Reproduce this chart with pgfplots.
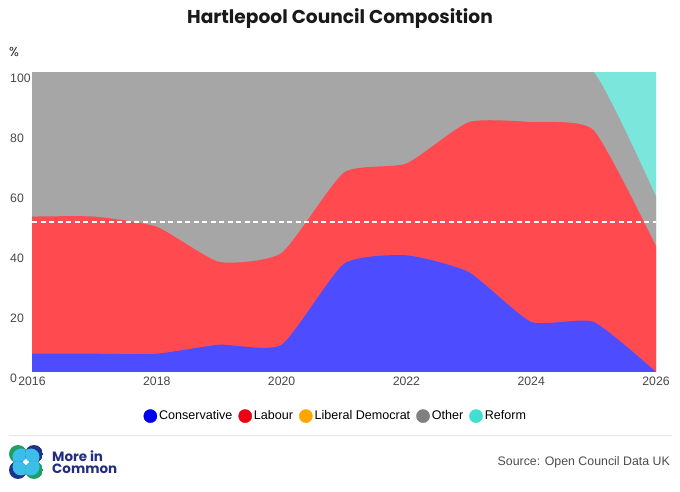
\documentclass[border=0pt]{standalone}
\usepackage{pgfplots}
\pgfplotsset{compat=1.18}
\usepackage{pgfplotstable}
\usepgfplotslibrary{fillbetween}
\usepackage{fontspec}
\setmainfont{Liberation Sans}
\newfontfamily\poppins{Poppins}

\definecolor{conA}{RGB}{77,77,255}
\definecolor{labA}{RGB}{255,75,80}
\definecolor{othA}{RGB}{166,166,166}
\definecolor{refA}{RGB}{123,230,220}
\definecolor{conL}{RGB}{0,0,240}
\definecolor{labL}{RGB}{235,0,20}
\definecolor{libL}{RGB}{255,166,0}
\definecolor{othL}{RGB}{128,128,128}
\definecolor{refL}{RGB}{64,224,208}
\definecolor{tickgray}{RGB}{70,70,70}
\definecolor{navy}{RGB}{32,45,130}
\definecolor{logogreen}{RGB}{30,160,100}
\definecolor{logonavy}{RGB}{30,50,140}
\definecolor{logocyan}{RGB}{60,190,235}

% cumulative boundaries (percent of seats)
\pgfplotstableread{
year con labtop othtop all
2016 6.1 51.8 100 100
2017 6.1 51.8 100 100
2018 6.1 48.4 100 100
2019 9.1 36.7 100 100
2020 9.1 39.7 100 100
2021 36.1 66.5 100 100
2022 38.9 69.5 100 100
2023 33.3 83.3 100 100
2024 16.7 83.3 100 100
2025 16.7 80.6 100 100
2026 0 41.9 58.5 100
}\councildata

\begin{document}
\begin{tikzpicture}
\begin{axis}[
  at={(32bp,120bp)}, anchor=south west,
  scale only axis, width=624bp, height=300bp,
  xmin=2016, xmax=2026, ymin=0, ymax=100,
  xtick={2016,2018,...,2026}, ytick={0,20,...,100},
  axis line style={draw=none}, major tick length=0pt,
  /pgf/number format/1000 sep={},
  /pgf/number format/assume math mode=true,
  xticklabel style={font=\fontsize{12.3}{14}\selectfont, text=tickgray, yshift=-1bp},
  yticklabel style={font=\fontsize{12.3}{14}\selectfont, text=tickgray, anchor=north west, inner sep=0pt, xshift=-22bp, yshift=-2bp},
  legend style={at={(0.4864,-0.147)}, anchor=center, draw=none, fill=none,
    legend columns=-1, font=\fontsize{12.6}{14}\selectfont,
    nodes={inner xsep=1.5bp, inner ysep=1bp},
    /tikz/every odd column/.append style={column sep=0.5bp},
    /tikz/every even column/.append style={column sep=4.5bp}},
]
\addplot[draw=none, name path=p0, forget plot] coordinates {(2016,0) (2026,0)};
\addplot[draw=none, name path=p1, smooth, tension=0.33, forget plot] table[x=year,y=con]{\councildata};
\addplot[draw=none, name path=p2, smooth, tension=0.33, forget plot] table[x=year,y=labtop]{\councildata};
\addplot[draw=none, name path=p4, smooth, tension=0.33, forget plot] table[x=year,y=othtop]{\councildata};
\addplot[draw=none, name path=p5, forget plot] table[x=year,y=all]{\councildata};

\addplot[fill=refA, draw=none, forget plot] fill between[of=p5 and p0];
\addplot[fill=othA, draw=none, forget plot] fill between[of=p4 and p0];
\addplot[fill=labA, draw=none, forget plot] fill between[of=p2 and p0];
\addplot[fill=conA, draw=none, forget plot] fill between[of=p1 and p0];

\addplot[white, line width=1.8bp, dash pattern=on 5bp off 3.5bp, forget plot] coordinates {(2016,50) (2026,50)};

\addlegendimage{legend image code/.code={\fill[conL] (6.6bp,0bp) circle (6.6bp);}}
\addlegendentry{Conservative}
\addlegendimage{legend image code/.code={\fill[labL] (6.6bp,0bp) circle (6.6bp);}}
\addlegendentry{Labour}
\addlegendimage{legend image code/.code={\fill[libL] (6.6bp,0bp) circle (6.6bp);}}
\addlegendentry{Liberal Democrat}
\addlegendimage{legend image code/.code={\fill[othL] (6.6bp,0bp) circle (6.6bp);}}
\addlegendentry{Other}
\addlegendimage{legend image code/.code={\fill[refL] (6.6bp,0bp) circle (6.6bp);}}
\addlegendentry{Reform}
\end{axis}

% keep the plot area's top edge clean (curve overshoot above 100 %)
\fill[white] (30bp,420bp) rectangle (660bp,432bp);

% title and axis unit
\node[font=\poppins\bfseries\fontsize{18.7}{22}\selectfont, text=black!90] at (340bp,473bp) {Hartlepool Council Composition};
\node[anchor=west, inner sep=0pt, font=\poppins\fontsize{13}{15}\selectfont, text=black!85] at (9bp,440bp) {\%};

% separator
\draw[black!10, line width=1bp] (9bp,56bp) -- (672bp,56bp);

% logo
\foreach \cx/\cy/\dx/\dy/\col in {18/38/3/-3/logogreen, 34/38/-3/-3/logonavy, 18/22/3/3/logonavy, 34/22/-3/3/logogreen}{
  \begin{scope}
    \clip (\cx bp,\cy bp) circle (9bp);
    \fill[\col] (\cx bp,\cy bp) circle (9bp);
    \fill[logocyan] (\cx bp+\dx bp,\cy bp+\dy bp) circle (8.5bp);
  \end{scope}
}
\node[anchor=west, inner sep=0pt, align=left, font=\poppins\bfseries\fontsize{13.5}{12.5}\selectfont, text=navy] at (52bp,30bp) {More in\\Common};

% source
\node[anchor=east, inner sep=0pt, font=\fontsize{12.4}{14}\selectfont, text=black!70] at (670bp,30bp) {Source: Open Council Data UK};

\pgfresetboundingbox
\useasboundingbox (0bp,0bp) rectangle (680bp,492bp);
\end{tikzpicture}
\end{document}
